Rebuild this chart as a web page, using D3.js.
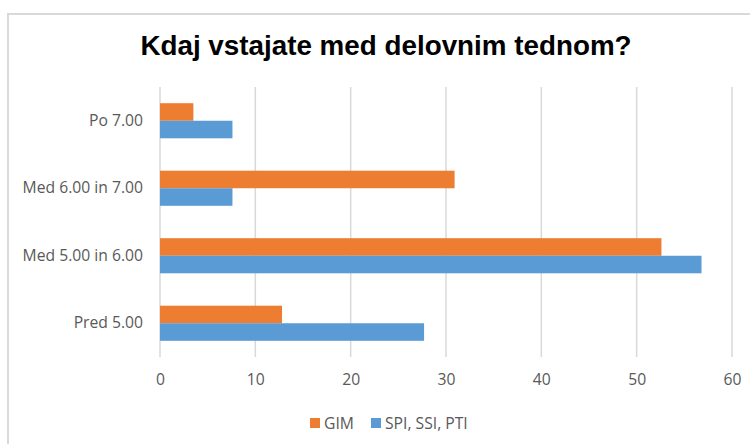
<!DOCTYPE html>
<html>
<head>
<meta charset="utf-8">
<script src="https://d3js.org/d3.v7.min.js"></script>
<style>
  body { margin: 0; background: #fff; }
  svg text { font-family: "Open Sans", sans-serif; }
</style>
</head>
<body>
<div id="chart"></div>
<script>
// data
var categories = ["Po 7.00", "Med 6.00 in 7.00", "Med 5.00 in 6.00", "Pred 5.00"];
var seriesNames = ["GIM", "SPI, SSI, PTI"];
var gim = [3.5, 30.9, 52.6, 12.8];
var spi = [7.6, 7.6, 56.8, 27.7];
var xTicks = [0, 10, 20, 30, 40, 50, 60];
var colors = ["#ED7D31", "#5B9BD5"];

var width = 750, height = 444;
var margin = {left: 160, right: 18, top: 87, bottom: 87};
var labelSize = "15.7px";

var svg = d3.select("#chart").append("svg")
  .attr("width", width)
  .attr("height", height);

// outer frame
svg.append("path")
  .attr("d", "M8,444 V14 H750")
  .attr("fill", "none")
  .attr("stroke", "#d9d9d9")
  .attr("stroke-width", 2);

// title
svg.append("text")
  .attr("x", 386)
  .attr("y", 55)
  .attr("text-anchor", "middle")
  .style("font-family", "'Liberation Sans', Arial, sans-serif")
  .style("font-weight", "bold")
  .style("font-size", "27.8px")
  .attr("fill", "#000")
  .text("Kdaj vstajate med delovnim tednom?");

var xs = d3.scaleLinear().domain([0, 60]).range([margin.left, width - margin.right]);
var y0 = d3.scaleBand().domain(categories)
  .range([margin.top, height - margin.bottom])
  .paddingInner(0.48).paddingOuter(0.24);
var y1 = d3.scaleBand().domain(seriesNames).range([0, y0.bandwidth()]);

// gridlines
svg.append("g")
  .selectAll("line")
  .data(xTicks)
  .enter()
  .append("line")
  .attr("x1", function(d) { return xs(d); })
  .attr("x2", function(d) { return xs(d); })
  .attr("y1", margin.top)
  .attr("y2", height - margin.bottom)
  .attr("stroke", "#d9d9d9")
  .attr("stroke-width", 1.5);

// bars
var rows = categories.map(function(c, i) {
  return {cat: c, vals: [gim[i], spi[i]]};
});
var grp = svg.selectAll(".cat")
  .data(rows)
  .enter()
  .append("g")
  .attr("transform", function(d) { return "translate(0," + y0(d.cat) + ")"; });
grp.selectAll("rect")
  .data(function(d) { return d.vals.map(function(v, j) { return {s: seriesNames[j], v: v, j: j}; }); })
  .enter()
  .append("rect")
  .attr("x", xs(0))
  .attr("y", function(d) { return y1(d.s); })
  .attr("width", function(d) { return xs(d.v) - xs(0); })
  .attr("height", y1.bandwidth())
  .attr("fill", function(d) { return colors[d.j]; });

// x axis labels
var xAxis = svg.append("g")
  .attr("transform", "translate(0," + (height - margin.bottom) + ")")
  .call(d3.axisBottom(xs).tickValues(xTicks).tickSize(0).tickPadding(17));
xAxis.select(".domain").remove();
xAxis.selectAll("text")
  .style("font-family", "'Open Sans', sans-serif")
  .style("font-size", labelSize)
  .attr("fill", "#595959");

// y axis labels
var yAxis = svg.append("g")
  .attr("transform", "translate(" + margin.left + ",0)")
  .call(d3.axisLeft(y0).tickSize(0).tickPadding(17));
yAxis.select(".domain").remove();
yAxis.selectAll("text")
  .style("font-family", "'Open Sans', sans-serif")
  .style("font-size", labelSize)
  .attr("fill", "#595959");

// legend
var legendX = [310, 371];
var leg = svg.selectAll(".legend")
  .data(seriesNames)
  .enter()
  .append("g")
  .attr("transform", function(d, i) { return "translate(" + legendX[i] + ",418)"; });
leg.append("rect")
  .attr("width", 10)
  .attr("height", 10)
  .attr("fill", function(d, i) { return colors[i]; });
leg.append("text")
  .attr("x", 14)
  .attr("y", 10.5)
  .style("font-size", labelSize)
  .attr("fill", "#595959")
  .text(function(d) { return d; });
</script>
</body>
</html>
